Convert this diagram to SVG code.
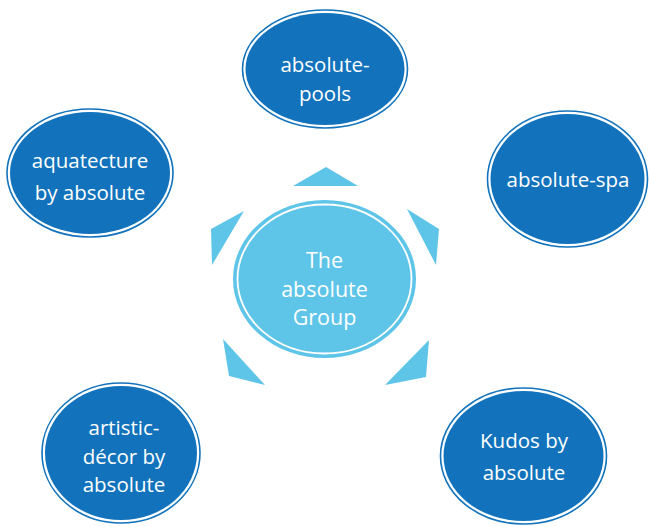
<svg xmlns="http://www.w3.org/2000/svg" width="649" height="526" viewBox="0 0 649 526">
<style>
.ring{fill:none;stroke:#1273BC;stroke-width:1.6}
.core{fill:#1273BC}
.t{font-family:"Open Sans","Noto Sans",sans-serif;font-size:20.5px;fill:#fff;text-anchor:middle}
.ct{font-family:"Open Sans","Noto Sans",sans-serif;font-size:21.5px;fill:#fff;text-anchor:middle}
.tri{fill:#5EC5E9}
</style>
<rect width="649" height="526" fill="#fff"/>
<g id="connectors">
<polygon class="tri" points="293,186 326,167 358,186"/>
<polygon class="tri" points="211,229 244,211 212,265"/>
<polygon class="tri" points="407,209 439,229 436,265"/>
<polygon class="tri" points="223,339 265,385 229,376"/>
<polygon class="tri" points="429,340 426,377 385,385"/>
</g>
<g id="center">
<ellipse cx="324.5" cy="279" rx="91.5" ry="79" fill="#5EC5E9"/>
<ellipse cx="324.5" cy="279" rx="87" ry="74.5" fill="none" stroke="#fff" stroke-width="1.8"/>
<text class="ct" x="324.5" y="268">The</text>
<text class="ct" x="324.5" y="296.5">absolute</text>
<text class="ct" x="324.5" y="325">Group</text>
</g>
<g id="pools">
<ellipse class="ring" cx="325" cy="69" rx="82.5" ry="59"/>
<ellipse class="core" cx="325" cy="69" rx="79.5" ry="56"/>
<text class="t" x="325" y="71.5">absolute-</text>
<text class="t" x="325" y="100.5">pools</text>
</g>
<g id="aquatecture">
<ellipse class="ring" cx="90" cy="173" rx="83" ry="64"/>
<ellipse class="core" cx="90" cy="173" rx="80" ry="61"/>
<text class="t" x="90" y="167.5">aquatecture</text>
<text class="t" x="90" y="199.5">by absolute</text>
</g>
<g id="spa">
<ellipse class="ring" cx="567.5" cy="179" rx="80" ry="68"/>
<ellipse class="core" cx="567.5" cy="179" rx="77" ry="65"/>
<text class="t" x="568" y="187">absolute-spa</text>
</g>
<g id="artistic">
<ellipse class="ring" cx="121" cy="453" rx="79" ry="70"/>
<ellipse class="core" cx="121" cy="453" rx="76" ry="67"/>
<text class="t" x="124" y="435">artistic-</text>
<text class="t" x="124" y="463.5">décor by</text>
<text class="t" x="124" y="492">absolute</text>
</g>
<g id="kudos">
<ellipse class="ring" cx="523.5" cy="456" rx="83" ry="68"/>
<ellipse class="core" cx="523.5" cy="456" rx="80" ry="65"/>
<text class="t" x="524" y="448">Kudos by</text>
<text class="t" x="524" y="480">absolute</text>
</g>
</svg>
